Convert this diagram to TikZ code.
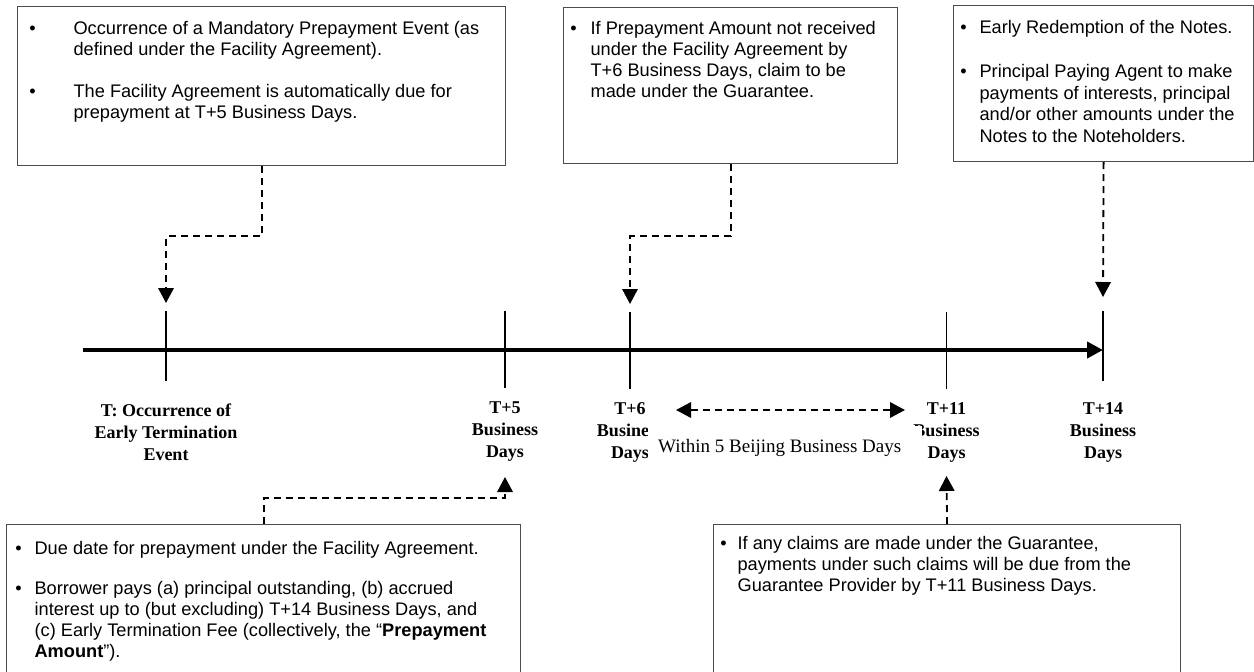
\documentclass[tikz,border=0pt]{standalone}
\usepackage{fontspec}
\usepackage{array}
\newfontfamily\boxfont{Liberation Sans}
\newfontfamily\labfont{Liberation Serif}
\usetikzlibrary{arrows.meta,calc}

% bullet centred at a given distance (in pt) from the left edge of its column
\newcommand{\bul}[1]{\hspace*{#1pt}\makebox[0pt]{•}}

\tikzset{
  note/.style={draw=black!70, line width=1.2pt, fill=white, inner sep=0pt,
    anchor=north west, font=\boxfont\fontsize{18.2}{21}\selectfont},
  axis/.style={line width=4.6pt, -{Triangle[length=16pt,width=16pt]}},
  tickline/.style={line width=1.8pt},
  conn/.style={line width=1.8pt, dash pattern=on 7pt off 5pt,
    -{Triangle[length=15pt,width=15.5pt]}},
  twoway/.style={line width=1.8pt, dash pattern=on 7pt off 5pt,
    {Triangle[length=15pt,width=15.5pt]}-{Triangle[length=15pt,width=15.5pt]}},
  daylabel/.style={font=\labfont\bfseries\fontsize{18}{22}\selectfont,
    align=center, inner sep=0pt},
}

\begin{document}
\begin{tikzpicture}[x=1pt,y=-1pt]
\useasboundingbox (0,0) rectangle (1254,672);

% time axis and the dates on it
\coordinate (start) at (83,350);
\coordinate (T0)  at (166,350);
\coordinate (T5)  at (505,350);
\coordinate (T6)  at (630,350);
\coordinate (T11) at (946.5,350);
\coordinate (T14) at (1103,350);

\draw[axis] (start) -- (T14);
\foreach \c/\a/\b in {T0/39/31, T5/39/38, T6/38/39, T11/38/39, T14/39/31}
  \draw[tickline] ($(\c)+(0,-\a)$) -- ($(\c)+(0,\b)$);

% arrow tips of the connectors
\coordinate (a0)  at (166,303);
\coordinate (a6)  at (630,304);
\coordinate (a14) at (1103,297);
\coordinate (a5)  at (505,477);
\coordinate (a11) at (946.5,476);

% date labels
\node[daylabel] (l0)  at (166,432)   {T: Occurrence of\\Early Termination\\Event};
\node[daylabel] (l5)  at (505,432)   {T+5\\Business\\Days};
\node[daylabel] (l6)  at (630,432)   {T+6\\Business\\Days};
\node[daylabel] (l11) at (946.5,432) {T+11\\Business\\Days};
\node[daylabel] (l14) at (1103,432)  {T+14\\Business\\Days};

% period between T+6 and T+11 (its white ground hides parts of the labels)
\node[fill=white, inner sep=0pt, minimum width=274pt, minimum height=44pt,
      anchor=north west, font=\labfont\fontsize{19}{22}\selectfont]
  (win) at (648,426) {\makebox[274pt][l]{\hspace*{10pt}Within 5 Beijing Business Days}};
\coordinate (w1) at (676,410);
\coordinate (w2) at (905,410);
\draw[twoway] (w1) -- (w2);

% upper notes
\node[note] (n1) at (17,6) {\parbox[c][159pt][t]{488pt}{\vspace*{13pt}%
  \begin{tabular}{@{}p{56pt}@{}l@{}}
  \bul{15} & Occurrence of a Mandatory Prepayment Event (as\\
           & defined under the Facility Agreement).\\[21pt]
  \bul{15} & The Facility Agreement is automatically due for\\
           & prepayment at T+5 Business Days.
  \end{tabular}}};

\node[note] (n2) at (563,7) {\parbox[c][156pt][t]{334pt}{\vspace*{12.5pt}%
  \begin{tabular}{@{}p{27pt}@{}l@{}}
  \bul{10} & If Prepayment Amount not received\\
           & under the Facility Agreement by\\
           & T+6 Business Days, claim to be\\
           & made under the Guarantee.
  \end{tabular}}};

\node[note, font=\boxfont\fontsize{18.2}{21.7}\selectfont] (n3) at (953,5)
  {\parbox[c][156pt][t]{300pt}{\vspace*{13pt}%
  \begin{tabular}{@{}p{26pt}@{}l@{}}
  \bul{10} & Early Redemption of the Notes.\\[22pt]
  \bul{10} & Principal Paying Agent to make\\
           & payments of interests, principal\\
           & and/or other amounts under the\\
           & Notes to the Noteholders.
  \end{tabular}}};

% lower notes
\node[note] (m1) at (6,524) {\parbox[c][170pt][t]{514pt}{\vspace*{15.5pt}%
  \begin{tabular}{@{}p{28pt}@{}l@{}}
  \bul{12} & Due date for prepayment under the Facility Agreement.\\[19pt]
  \bul{12} & Borrower pays (a) principal outstanding, (b) accrued\\
           & interest up to (but excluding) T+14 Business Days, and\\
           & (c) Early Termination Fee (collectively, the “\textbf{Prepayment}\\
           & \textbf{Amount}”).
  \end{tabular}}};

\node[note] (m2) at (713,524) {\parbox[c][170pt][t]{467pt}{\vspace*{10.5pt}%
  \begin{tabular}{@{}p{24pt}@{}l@{}}
  \bul{10} & If any claims are made under the Guarantee,\\
           & payments under such claims will be due from the\\
           & Guarantee Provider by T+11 Business Days.
  \end{tabular}}};

% connectors from the notes to the dates
\draw[conn] (n1.south) -- ++(0,70) -| (a0);
\draw[conn] (n2.south) -- ++(0,72) -| (a6);
\draw[conn] (n3.south) -- (a14);
\draw[conn] (m1.north) -- ++(0,-26) -| (a5);
\draw[conn] (m2.north) -- (a11);
\end{tikzpicture}
\end{document}
